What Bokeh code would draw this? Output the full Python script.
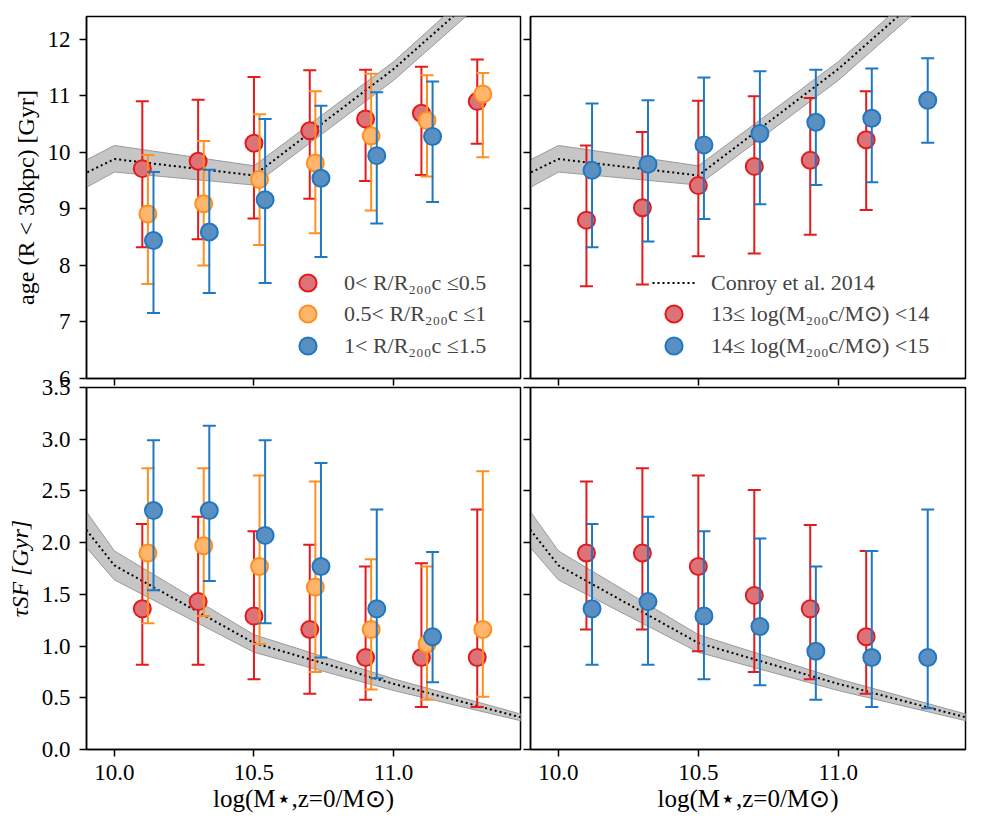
from bokeh.plotting import figure
from bokeh.models import (ColumnDataSource, Range1d, FixedTicker,
                          PrintfTickFormatter, Legend, LegendItem,
                          CustomLabelingPolicy)
from bokeh.layouts import row, column
from bokeh.embed import file_html
from bokeh.resources import INLINE

FONT = "Liberation Serif"

# ---------------- data ----------------
mass_bins = [10.1, 10.3, 10.5, 10.7, 10.9, 11.1, 11.3]
offset_step = 0.02

# top-left: age by cluster-centric radius
age_r1 = [9.71, 9.84, 10.16, 10.38, 10.59, 10.69, 10.90]
age_r1_hi = [10.90, 10.93, 11.33, 11.45, 11.46, 11.51, 11.64]
age_r1_lo = [8.32, 8.46, 8.83, 9.18, 9.49, 9.60, 10.15]
age_r2 = [8.91, 9.09, 9.52, 9.81, 10.29, 10.56, 11.03]
age_r2_hi = [9.95, 10.20, 10.67, 11.08, 11.39, 11.36, 11.40]
age_r2_lo = [7.67, 8.00, 8.36, 8.57, 8.97, 9.57, 9.91]
age_r3 = [8.44, 8.59, 9.16, 9.54, 9.94, 10.28]
age_r3_hi = [9.65, 9.69, 10.59, 10.82, 11.06, 11.25]
age_r3_lo = [7.16, 7.51, 7.69, 8.15, 8.74, 9.12]

# bottom-left: tau_SF by radius
tau_r1 = [1.36, 1.43, 1.29, 1.16, 0.89, 0.89, 0.89]
tau_r1_hi = [2.18, 2.25, 2.11, 1.98, 1.77, 1.80, 2.32]
tau_r1_lo = [0.82, 0.82, 0.68, 0.54, 0.48, 0.41, 0.41]
tau_r2 = [1.90, 1.97, 1.77, 1.57, 1.16, 1.02, 1.16]
tau_r2_hi = [2.72, 2.72, 2.65, 2.59, 1.84, 1.77, 2.69]
tau_r2_lo = [1.22, 1.29, 1.02, 0.75, 0.58, 0.48, 0.51]
tau_r3 = [2.31, 2.31, 2.07, 1.77, 1.36, 1.09]
tau_r3_hi = [2.99, 3.13, 2.99, 2.77, 2.32, 1.91]
tau_r3_lo = [1.54, 1.63, 1.22, 0.89, 0.69, 0.65]

# top-right: age by halo mass
age_m1 = [8.80, 9.02, 9.41, 9.75, 9.86, 10.22]
age_m1_hi = [10.12, 10.36, 10.91, 10.99, 10.96, 11.08]
age_m1_lo = [7.63, 7.66, 8.16, 8.21, 8.54, 8.98]
age_m2 = [9.68, 9.79, 10.13, 10.33, 10.53, 10.60, 10.92]
age_m2_hi = [10.86, 10.92, 11.32, 11.43, 11.46, 11.48, 11.66]
age_m2_lo = [8.32, 8.42, 8.82, 9.08, 9.42, 9.47, 10.17]

# bottom-right: tau_SF by halo mass
tau_m1 = [1.90, 1.90, 1.77, 1.49, 1.36, 1.09]
tau_m1_hi = [2.59, 2.72, 2.65, 2.51, 2.17, 1.92]
tau_m1_lo = [1.16, 1.16, 0.95, 0.75, 0.68, 0.54]
tau_m2 = [1.36, 1.43, 1.29, 1.19, 0.95, 0.89, 0.89]
tau_m2_hi = [2.18, 2.25, 2.11, 2.04, 1.77, 1.92, 2.32]
tau_m2_lo = [0.82, 0.82, 0.68, 0.62, 0.48, 0.41, 0.40]

# Conroy et al. 2014 relation
conroy_mass = [9.5, 10.0, 10.5, 11.0, 11.5]
conroy_age = [8.68, 9.88, 9.59, 11.47, 13.65]
conroy_age_hi = [8.85, 10.12, 9.76, 11.60, 13.82]
conroy_age_lo = [8.30, 9.65, 9.42, 11.27, 13.45]
conroy_tau = [3.49, 1.78, 1.03, 0.635, 0.28]
conroy_tau_hi = [3.81, 1.92, 1.11, 0.683, 0.31]
conroy_tau_lo = [3.19, 1.64, 0.94, 0.57, 0.25]

x_ticks = [10.0, 10.5, 11.0]
age_ticks = [6, 7, 8, 9, 10, 11, 12]
tau_ticks = [0.0, 0.5, 1.0, 1.5, 2.0, 2.5, 3.0, 3.5]

labels_r = ["0< R/R₂₀₀c ≤0.5", "0.5< R/R₂₀₀c ≤1", "1< R/R₂₀₀c ≤1.5"]
labels_m = ["13≤ log(M₂₀₀c/M⊙) <14", "14≤ log(M₂₀₀c/M⊙) <15"]
label_conroy = "Conroy et al. 2014"

RED = ("#e41a1c", "#dc7378")
ORANGE = ("#ff8f1f", "#ffb56b")
BLUE = ("#1f78c1", "#5a8fc2")

X_RANGE = (9.9, 11.455)
AGE_RANGE = (6.0, 12.4)
TAU_RANGE = (0.0, 3.5)

NO_LABELS = "return new Set()"
GAP_BORDER = 14          # border shared (overlapping) between the two rows
ROW_OVERLAP = 2 * GAP_BORDER - 9


def make_fig(frame_w, yrange, yticks, yfmt, show_ylabels, show_xlabels,
             ylabel, borders, ylabel_style="normal"):
    p = figure(frame_width=frame_w, frame_height=362,
               x_range=Range1d(*X_RANGE), y_range=Range1d(*yrange),
               output_backend="svg", toolbar_location=None,
               min_border_left=borders[0], min_border_right=borders[1],
               min_border_top=borders[2], min_border_bottom=borders[3],
               background_fill_color="white", border_fill_alpha=0)
    p.grid.visible = False
    p.outline_line_color = "black"
    p.outline_line_width = 1.5
    for ax in (p.xaxis[0], p.yaxis[0]):
        ax.axis_line_color = "black"
        ax.axis_line_width = 1.5
        ax.major_tick_line_color = "black"
        ax.major_tick_line_width = 1.5
        ax.major_tick_out = 7
        ax.major_tick_in = 0
        ax.minor_tick_line_color = None
        ax.major_label_text_font = FONT
        ax.major_label_text_font_size = "23px"
        ax.major_label_text_color = "black"
        ax.axis_label_text_font = FONT
        ax.axis_label_text_font_size = "24px"
        ax.axis_label_text_color = "black"
        ax.axis_label_text_font_style = "normal"
        ax.major_label_standoff = 9
        ax.axis_label_standoff = 6
    p.xaxis.ticker = FixedTicker(ticks=x_ticks)
    p.xaxis.formatter = PrintfTickFormatter(format="%.1f")
    p.yaxis.ticker = FixedTicker(ticks=yticks)
    p.yaxis.formatter = PrintfTickFormatter(format=yfmt)
    if show_xlabels:
        p.xaxis.axis_label = "log(M⋆,z=0/M⊙)"
        p.xaxis.axis_label_text_font_size = "25px"
        p.xaxis.major_label_standoff = 8
        p.xaxis.axis_label_standoff = 2
    else:
        p.xaxis.major_label_text_font_size = "0px"
        p.xaxis.major_label_standoff = 0
        p.xaxis.major_label_policy = CustomLabelingPolicy(code=NO_LABELS)
    if show_ylabels:
        p.yaxis.axis_label = ylabel
        p.yaxis.axis_label_text_font_style = ylabel_style
    else:
        p.yaxis.major_label_text_font_size = "0px"
        p.yaxis.major_label_standoff = 0
        p.yaxis.major_label_policy = CustomLabelingPolicy(code=NO_LABELS)
    return p


def band(p, x, y, lo, hi):
    src = ColumnDataSource(dict(x=x, y=y, lo=lo, hi=hi))
    p.varea(x="x", y1="lo", y2="hi", source=src, fill_color="#c6c6c6", fill_alpha=1.0)
    p.line(x="x", y="lo", source=src, line_color="#9a9a9a", line_width=1)
    p.line(x="x", y="hi", source=src, line_color="#9a9a9a", line_width=1)
    return p.line(x="x", y="y", source=src, line_color="black", line_width=2,
                  line_dash="2 3")


def series(p, k, y, lo, hi, colors):
    line_c, fill_c = colors
    n = len(y)
    x = [m + k * offset_step for m in mass_bins[:n]]
    src = ColumnDataSource(dict(x=x, y=y, lo=lo, hi=hi))
    p.segment(x0="x", y0="lo", x1="x", y1="hi", source=src,
              line_color=line_c, line_width=2)
    p.scatter(x="x", y="hi", source=src, marker="dash", size=13,
              line_color=line_c, line_width=2)
    p.scatter(x="x", y="lo", source=src, marker="dash", size=13,
              line_color=line_c, line_width=2)
    return p.scatter(x="x", y="y", source=src, marker="circle", size=17,
                     fill_color=fill_c, line_color=line_c, line_width=2)


ROW_OFFSETS = [74, 43, 11]   # legend rows, screen px above the frame bottom


def add_legend(p, entries, x, standoff):
    # one single-row legend per entry, stacked to reproduce the row pitch
    for (label, rend), y in zip(entries, ROW_OFFSETS):
        p.add_layout(Legend(items=[LegendItem(label=label, renderers=[rend])],
                            location=(x, y), glyph_width=43, glyph_height=43,
                            label_height=43, spacing=0, padding=0, margin=0,
                            label_standoff=standoff, label_text_font=FONT,
                            label_text_font_size="22px",
                            background_fill_alpha=0, border_line_alpha=0))


# top-left
tl = make_fig(434, AGE_RANGE, age_ticks, "%d", True, False,
              "age (R < 30kpc) [Gyr]", (86, 2, 16, GAP_BORDER))
band(tl, conroy_mass, conroy_age, conroy_age_lo, conroy_age_hi)
r1 = series(tl, 0, age_r1, age_r1_lo, age_r1_hi, RED)
r2 = series(tl, 1, age_r2, age_r2_lo, age_r2_hi, ORANGE)
r3 = series(tl, 2, age_r3, age_r3_lo, age_r3_hi, BLUE)
add_legend(tl, list(zip(labels_r, [r1, r2, r3])), 200, 15)

# top-right
tr = make_fig(435, AGE_RANGE, age_ticks, "%d", False, False, None,
              (8, 8, 16, GAP_BORDER))
cl = band(tr, conroy_mass, conroy_age, conroy_age_lo, conroy_age_hi)
m1 = series(tr, 0, age_m1, age_m1_lo, age_m1_hi, RED)
m2 = series(tr, 1, age_m2, age_m2_lo, age_m2_hi, BLUE)
add_legend(tr, list(zip([label_conroy] + labels_m, [cl, m1, m2])), 122, 16)

# bottom-left
bl = make_fig(434, TAU_RANGE, tau_ticks, "%.1f", True, True,
              "τSF [Gyr]", (86, 2, GAP_BORDER, 70), ylabel_style="italic")
band(bl, conroy_mass, conroy_tau, conroy_tau_lo, conroy_tau_hi)
series(bl, 0, tau_r1, tau_r1_lo, tau_r1_hi, RED)
series(bl, 1, tau_r2, tau_r2_lo, tau_r2_hi, ORANGE)
series(bl, 2, tau_r3, tau_r3_lo, tau_r3_hi, BLUE)

# bottom-right
br = make_fig(435, TAU_RANGE, tau_ticks, "%.1f", False, True, None,
              (8, 8, GAP_BORDER, 70))
band(br, conroy_mass, conroy_tau, conroy_tau_lo, conroy_tau_hi)
series(br, 0, tau_m1, tau_m1_lo, tau_m1_hi, RED)
series(br, 1, tau_m2, tau_m2_lo, tau_m2_hi, BLUE)

top_row = row(tl, tr)
bottom_row = row(bl, br, styles={"margin-top": f"-{ROW_OVERLAP}px"})
layout = column(top_row, bottom_row)
open("out.html", "w").write(file_html(layout, INLINE))
